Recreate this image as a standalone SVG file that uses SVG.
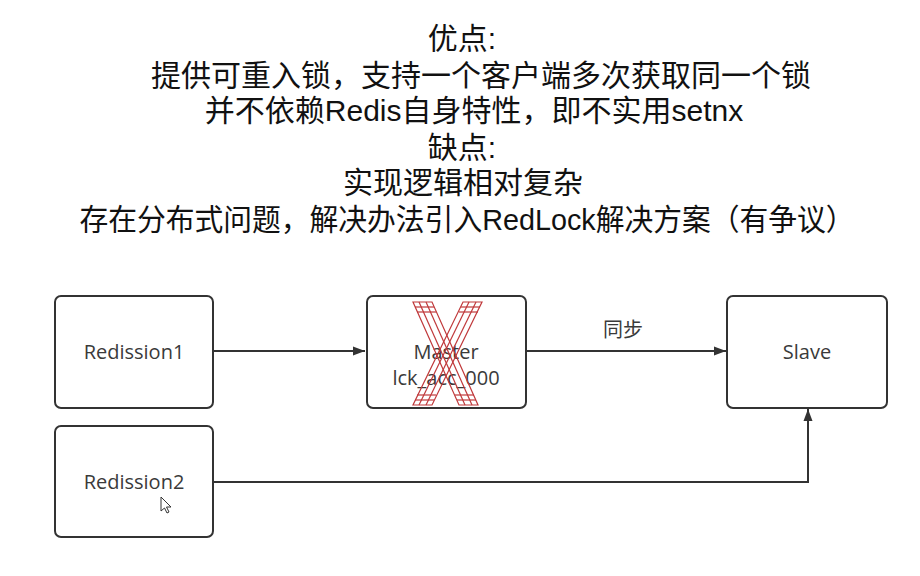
<svg xmlns="http://www.w3.org/2000/svg" width="920" height="576" viewBox="0 0 920 576">
<defs>
<style>
.title{font-family:"Liberation Sans","Noto Sans CJK SC",sans-serif;font-size:30px;fill:#111;text-anchor:middle}
.box{fill:#fff;stroke:#333;stroke-width:2}
.lbl{font-family:"Open Sans","Noto Sans","Noto Sans CJK SC",sans-serif;font-size:20px;fill:#3a3a3a;text-anchor:middle}
.edge{fill:none;stroke:#333;stroke-width:2}
.x{fill:none;stroke:#c0393b;stroke-width:1.2}
</style>
<marker id="ah" viewBox="0 0 12 10" refX="12" refY="5" markerWidth="12" markerHeight="10" markerUnits="userSpaceOnUse" orient="auto">
<path d="M0,0.5 L12,5 L0,9.5 Z" fill="#333"/>
</marker>
</defs>
<rect width="920" height="576" fill="#fff"/>
<g id="header">
<text class="title" x="462" y="49">优点:</text>
<text class="title" x="481" y="86">提供可重入锁，支持一个客户端多次获取同一个锁</text>
<text class="title" x="474" y="121">并不依赖Redis自身特性，即不实用setnx</text>
<text class="title" x="462" y="158">缺点:</text>
<text class="title" x="463" y="193">实现逻辑相对复杂</text>
<text class="title" x="467" y="230" textLength="775" lengthAdjust="spacingAndGlyphs">存在分布式问题，解决办法引入RedLock解决方案（有争议）</text>
</g>
<g id="connectors">
<line class="edge" x1="214" y1="351" x2="365" y2="351" marker-end="url(#ah)"/>
<line class="edge" x1="527" y1="351" x2="726" y2="351" marker-end="url(#ah)"/>
<text class="lbl" x="623" y="337" font-size="18">同步</text>
<polyline class="edge" points="214,482 808,482 808,409" marker-end="url(#ah)"/>
</g>
<g id="redission1">
<rect class="box" x="55" y="296" width="158" height="112" rx="6"/>
<text class="lbl" x="134" y="359">Redission1</text>
</g>
<g id="master">
<rect class="box" x="367" y="296" width="159" height="112" rx="6"/>
<text class="lbl" x="446" y="359">Master</text>
<text class="lbl" x="446" y="385">lck_acc_000</text>
<g id="cross">
<polygon class="x" points="413,302 432,302 478,405 459,405"/>
<line class="x" x1="419" y1="302" x2="465" y2="405"/>
<line class="x" x1="426" y1="302" x2="472" y2="405"/>
<line class="x" x1="415" y1="307" x2="434" y2="307"/>
<line class="x" x1="417" y1="312" x2="436" y2="312"/>
<line class="x" x1="455" y1="395" x2="474" y2="395"/>
<line class="x" x1="457" y1="400" x2="476" y2="400"/>
<polygon class="x" points="463,302 482,302 432,405 413,405"/>
<line class="x" x1="469" y1="302" x2="419" y2="405"/>
<line class="x" x1="476" y1="302" x2="426" y2="405"/>
<line class="x" x1="461" y1="307" x2="480" y2="307"/>
<line class="x" x1="459" y1="312" x2="478" y2="312"/>
<line class="x" x1="417" y1="395" x2="436" y2="395"/>
<line class="x" x1="415" y1="400" x2="434" y2="400"/>
</g>
</g>
<g id="slave">
<rect class="box" x="727" y="296" width="160" height="112" rx="6"/>
<text class="lbl" x="807" y="359">Slave</text>
</g>
<g id="redission2">
<rect class="box" x="55" y="426" width="158" height="111" rx="6"/>
<text class="lbl" x="134" y="489">Redission2</text>
</g>
<path d="M161,497 L161,511 L164.5,508 L167,513 L169,512 L166.5,507 L171,507 Z" fill="#fff" stroke="#333" stroke-width="1"/>
</svg>
